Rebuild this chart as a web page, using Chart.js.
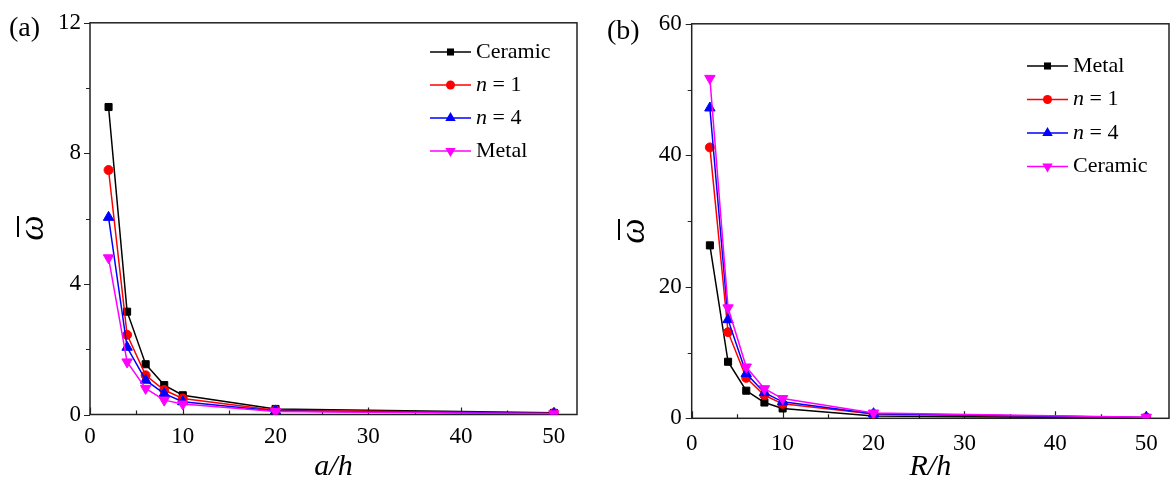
<!DOCTYPE html>
<html>
<head>
<meta charset="utf-8">
<script src="https://cdn.jsdelivr.net/npm/chart.js@4.4.0/dist/chart.umd.min.js"></script>
<style>
    html, body { margin: 0; padding: 0; background: #fff; }
    #wrap { position: relative; width: 1176px; height: 485px; }
    canvas { position: absolute; top: 0; }
</style>
</head>
<body>
<div id="wrap">
    <canvas id="chartA" width="588" height="485" style="left:0"></canvas>
    <canvas id="chartB" width="588" height="485" style="left:588px"></canvas>
</div>
<script>
// x positions (a/h and R/h)
const xValues = [2, 4, 6, 8, 10, 20, 50];

// (a) ω̄ vs a/h
const aCeramic = [9.42, 3.15, 1.54, 0.90, 0.59, 0.17, 0.05];
const aN1      = [7.49, 2.44, 1.20, 0.75, 0.49, 0.13, 0.04];
const aN4      = [6.04, 2.06, 1.05, 0.64, 0.39, 0.11, 0.03];
const aMetal   = [4.80, 1.61, 0.80, 0.44, 0.32, 0.09, 0.02];

// (b) ω̄ vs R/h
const bMetal   = [26.3, 8.6, 4.2, 2.4, 1.5, 0.35, 0.06];
const bN1      = [41.2, 13.1, 6.15, 3.5, 2.2, 0.65, 0.12];
const bN4      = [47.2, 15.0, 6.8, 3.9, 2.5, 0.70, 0.14];
const bCeramic = [51.7, 16.8, 7.8, 4.5, 3.0, 0.80, 0.16];

// ticks
const xMajor = [0, 10, 20, 30, 40, 50];
const xMinor = [5, 15, 25, 35, 45];
const aYMajor = [0, 4, 8, 12];
const aYMinor = [2, 6, 10];
const bYMajor = [0, 20, 40, 60];
const bYMinor = [10, 30, 50];

const serif = "'Liberation Serif', 'Times New Roman', serif";

const styles = {
    black:   { color: '#000000', pointStyle: 'rect', radius: 5, rotation: 0 },
    red:     { color: '#ff0000', pointStyle: 'circle', radius: 4.5, rotation: 0 },
    blue:    { color: '#0000ff', pointStyle: 'triangle', radius: 6, rotation: 0 },
    magenta: { color: '#ff00ff', pointStyle: 'triangle', radius: 6, rotation: 180 }
};

const makeSet = (label, values, st, order) => ({
    label: label,
    data: xValues.map((x, i) => ({ x: x, y: values[i] })),
    borderColor: st.color,
    backgroundColor: st.color,
    borderWidth: 1.5,
    pointStyle: st.pointStyle,
    pointRadius: st.radius,
    pointRotation: st.rotation,
    pointBorderWidth: 1,
    order: order,
    tension: 0
});

// draws a legend marker like Chart.js does
const drawMarker = (ctx, st, x, y) => {
    ctx.save();
    ctx.fillStyle = st.color;
    ctx.beginPath();
    if (st.pointStyle === 'rect') {
        const s = Math.SQRT1_2 * st.radius;
        ctx.rect(x - s, y - s, 2 * s, 2 * s);
    } else if (st.pointStyle === 'circle') {
        ctx.arc(x, y, st.radius, 0, Math.PI * 2);
    } else {
        let rad = st.rotation * Math.PI / 180;
        for (let k = 0; k < 3; k++) {
            const px = x + Math.sin(rad) * st.radius;
            const py = y - Math.cos(rad) * st.radius;
            k === 0 ? ctx.moveTo(px, py) : ctx.lineTo(px, py);
            rad += Math.PI * 2 / 3;
        }
        ctx.closePath();
    }
    ctx.fill();
    ctx.restore();
};

const decorPlugin = {
    id: 'decor',
    beforeDatasetsDraw(chart, args, opts) {
        const ctx = chart.ctx;
        const area = chart.chartArea;
        const xs = chart.scales.x, ys = chart.scales.y;
        ctx.save();
        ctx.strokeStyle = '#222';
        ctx.lineWidth = 1.5;
        ctx.strokeRect(area.left, area.top, area.right - area.left, area.bottom - area.top);
        ctx.lineWidth = 1.2;
        ctx.beginPath();
        xMajor.concat(xMinor).forEach(v => {
            const px = Math.round(xs.getPixelForValue(v)) + 0.5;
            const len = xMajor.includes(v) ? 7 : 4;
            ctx.moveTo(px, area.bottom);
            ctx.lineTo(px, area.bottom - len);
        });
        opts.yMajor.concat(opts.yMinor).forEach(v => {
            const py = Math.round(ys.getPixelForValue(v)) + 0.5;
            const len = opts.yMajor.includes(v) ? 6 : 4;
            ctx.moveTo(area.left, py);
            ctx.lineTo(area.left - len, py);
        });
        ctx.stroke();
        ctx.restore();
    },
    afterDraw(chart, args, opts) {
        const ctx = chart.ctx;
        ctx.save();
        ctx.fillStyle = '#000';

        // panel label
        ctx.font = `28px ${serif}`;
        ctx.textBaseline = 'alphabetic';
        ctx.textAlign = 'left';
        ctx.fillText(opts.panel, opts.panelX, opts.panelY);

        // y title: omega with overbar
        ctx.save();
        ctx.translate(opts.yTitle.x, opts.yTitle.y);
        ctx.rotate(-Math.PI / 2);
        ctx.font = `italic 36px ${serif}`;
        ctx.textAlign = 'center';
        ctx.fillText('\u03C9', 0, 0);
        ctx.strokeStyle = '#000';
        ctx.lineWidth = 2;
        ctx.beginPath();
        ctx.moveTo(-9, -opts.yTitle.bar);
        ctx.lineTo(12, -opts.yTitle.bar);
        ctx.stroke();
        ctx.restore();

        // legend
        const lg = opts.legend;
        chart.data.datasets.forEach((ds, i) => {
            const y = lg.y + i * lg.dy;
            const st = opts.legendStyles[i];
            ctx.strokeStyle = st.color;
            ctx.lineWidth = 1.5;
            ctx.beginPath();
            ctx.moveTo(lg.x0, y);
            ctx.lineTo(lg.x1, y);
            ctx.stroke();
            drawMarker(ctx, st, (lg.x0 + lg.x1) / 2, y);
            ctx.fillStyle = '#000';
            ctx.textBaseline = 'middle';
            ctx.textAlign = 'left';
            if (ds.label.startsWith('n')) {
                ctx.font = `italic 22px ${serif}`;
                ctx.fillText('n', lg.tx, y);
                const w = ctx.measureText('n').width;
                ctx.font = `22px ${serif}`;
                ctx.fillText(ds.label.slice(1), lg.tx + w, y);
            } else {
                ctx.font = `22px ${serif}`;
                ctx.fillText(ds.label, lg.tx, y);
            }
        });
        ctx.restore();
    }
};

const buildOptions = (cfg) => ({
    responsive: false,
    animation: false,
    devicePixelRatio: 1,
    layout: { padding: { left: 0, top: cfg.top, right: cfg.right, bottom: 0 } },
    plugins: {
        legend: { display: false },
        tooltip: { enabled: false },
        decor: cfg.decor
    },
    scales: {
        x: {
            type: 'linear',
            min: 0,
            max: 52.5,
            grid: { display: false, drawTicks: false },
            border: { display: false },
            afterBuildTicks: s => { s.ticks = xMajor.concat(xMinor).sort((a, b) => a - b).map(v => ({ value: v })); },
            afterFit: s => { s.height = cfg.xHeight; },
            ticks: {
                padding: cfg.xPad,
                maxRotation: 0,
                autoSkip: false,
                color: '#000',
                font: { family: serif, size: 23 },
                callback: v => xMajor.includes(v) ? String(v) : ''
            },
            title: {
                display: true,
                text: cfg.xTitle,
                color: '#000',
                padding: { top: 0, bottom: 0 },
                font: { family: serif, size: 30, style: 'italic' }
            }
        },
        y: {
            type: 'linear',
            min: 0,
            max: cfg.yMax,
            grid: { display: false, drawTicks: false },
            border: { display: false },
            afterBuildTicks: s => { s.ticks = cfg.decor.yMajor.concat(cfg.decor.yMinor).sort((a, b) => a - b).map(v => ({ value: v })); },
            afterFit: s => { s.width = cfg.yWidth; },
            ticks: {
                padding: cfg.yPad,
                autoSkip: false,
                color: '#000',
                font: { family: serif, size: 23 },
                callback: v => cfg.decor.yMajor.includes(v) ? String(v) : ''
            }
        }
    }
});

new Chart(document.getElementById('chartA'), {
    type: 'line',
    data: {
        datasets: [
            makeSet('Ceramic', aCeramic, styles.black, 4),
            makeSet('n = 1', aN1, styles.red, 3),
            makeSet('n = 4', aN4, styles.blue, 2),
            makeSet('Metal', aMetal, styles.magenta, 1)
        ]
    },
    options: buildOptions({
        top: 20, right: 11, xHeight: 70.5, yWidth: 90, yMax: 12, xPad: 9, yPad: 9,
        xTitle: 'a/h',
        decor: {
            yMajor: aYMajor, yMinor: aYMinor,
            panel: '(a)', panelX: 9, panelY: 36,
            yTitle: { x: 43, y: 228, bar: 25 },
            legend: { x0: 430, x1: 471, tx: 476, y: 52, dy: 33 },
            legendStyles: [styles.black, styles.red, styles.blue, styles.magenta]
        }
    }),
    plugins: [decorPlugin]
});

new Chart(document.getElementById('chartB'), {
    type: 'line',
    data: {
        datasets: [
            makeSet('Metal', bMetal, styles.black, 4),
            makeSet('n = 1', bN1, styles.red, 3),
            makeSet('n = 4', bN4, styles.blue, 2),
            makeSet('Ceramic', bCeramic, styles.magenta, 1)
        ]
    },
    options: buildOptions({
        top: 22.5, right: 1, xHeight: 66.7, yWidth: 103.7, yMax: 60, xPad: 12, yPad: 10,
        xTitle: 'R/h',
        decor: {
            yMajor: bYMajor, yMinor: bYMinor,
            panel: '(b)', panelX: 19, panelY: 39,
            yTitle: { x: 56, y: 231, bar: 25 },
            legend: { x0: 439, x1: 480, tx: 485, y: 66, dy: 33.5 },
            legendStyles: [styles.black, styles.red, styles.blue, styles.magenta]
        }
    }),
    plugins: [decorPlugin]
});
</script>
</body>
</html>
